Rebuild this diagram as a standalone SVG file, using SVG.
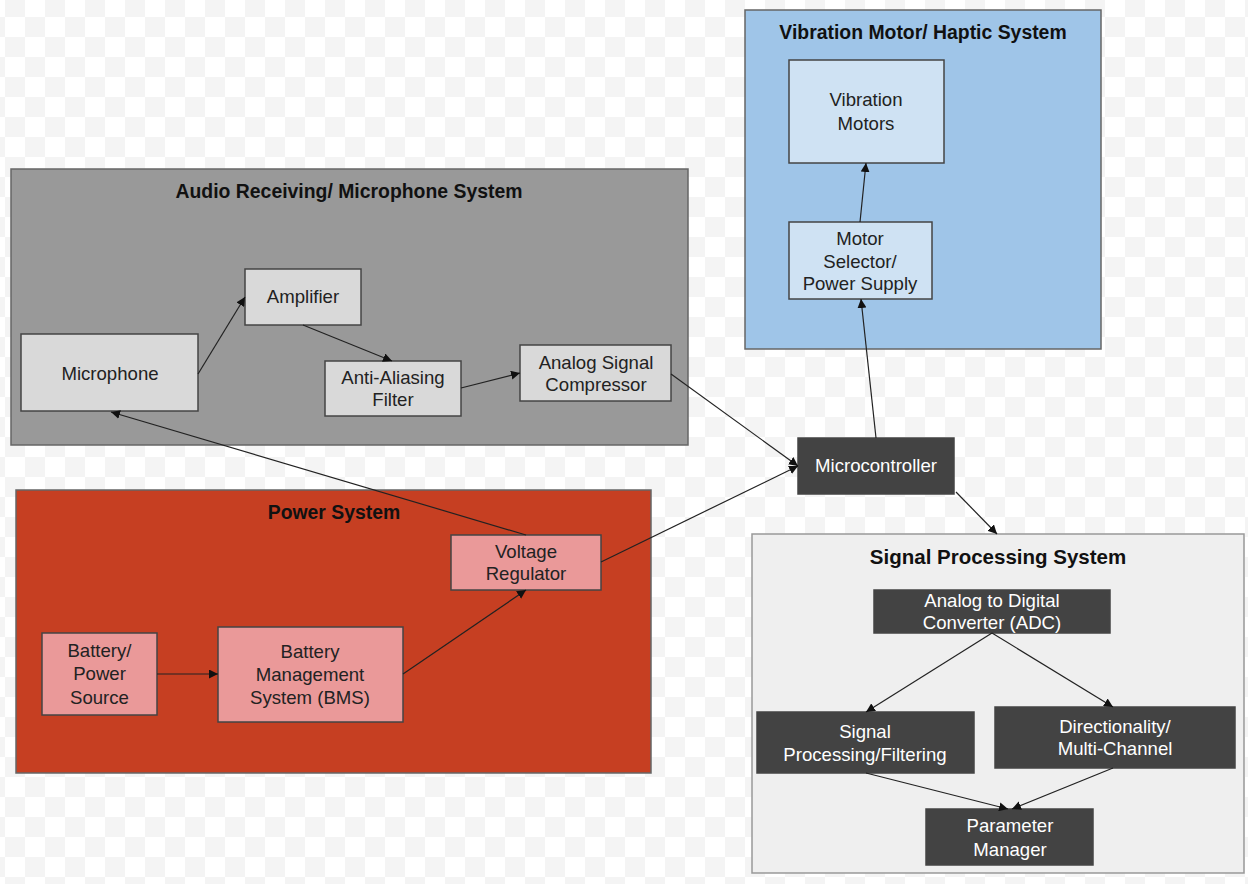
<svg xmlns="http://www.w3.org/2000/svg" width="1248" height="884" viewBox="0 0 1248 884">
<defs>
<pattern id="chk" x="5" y="-3" width="40" height="40" patternUnits="userSpaceOnUse">
<rect width="40" height="40" fill="#ffffff"/>
<rect width="20" height="20" fill="#f4f4f4"/>
<rect x="20" y="20" width="20" height="20" fill="#f4f4f4"/>
</pattern>
<marker id="arr" viewBox="0 0 10 10" refX="10" refY="5" markerWidth="9" markerHeight="9" markerUnits="userSpaceOnUse" orient="auto">
<path d="M0,0 L10,5 L0,10 Z" fill="#111"/>
</marker>
<style>
.t{font-family:"Liberation Sans",Arial,sans-serif;font-size:18.6px;text-anchor:middle;fill:#222}
.w{fill:#ffffff}
.h{font-family:"Liberation Sans",Arial,sans-serif;font-size:19.4px;font-weight:bold;text-anchor:middle;fill:#111}
.n{stroke:#444;stroke-width:1.5}
.g{stroke:#666;stroke-width:1.5}
.c line{stroke:#222;stroke-width:1.2;marker-end:url(#arr)}
</style>
</defs>
<rect width="1248" height="884" fill="url(#chk)"/>

<g id="audio-system">
<rect class="g" x="11" y="169" width="677" height="276" fill="#999999"/>
<text class="h" x="349" y="198">Audio Receiving/ Microphone System</text>
</g>
<g id="vibration-system">
<rect class="g" x="745" y="10" width="356" height="339" fill="#9fc5e8"/>
<text class="h" x="923" y="39">Vibration Motor/ Haptic System</text>
</g>
<g id="power-system">
<rect class="g" x="16" y="490" width="635" height="283" fill="#c63f22"/>
<text class="h" x="334" y="519">Power System</text>
</g>
<g id="signal-system">
<rect x="752" y="534" width="492" height="339" fill="#efefef" stroke="#999" stroke-width="1.5"/>
<text class="h" x="998" y="564" style="font-size:20.5px">Signal Processing System</text>
</g>

<g id="microphone">
<rect class="n" x="21" y="334" width="177" height="77" fill="#d9d9d9"/>
<text class="t" x="110" y="380">Microphone</text>
</g>
<g id="amplifier">
<rect class="n" x="245" y="269" width="116" height="56" fill="#d9d9d9"/>
<text class="t" x="303" y="303">Amplifier</text>
</g>
<g id="anti-aliasing">
<rect class="n" x="325" y="361" width="136" height="55" fill="#d9d9d9"/>
<text class="t" x="393" y="384">Anti-Aliasing</text>
<text class="t" x="393" y="406">Filter</text>
</g>
<g id="compressor">
<rect class="n" x="520" y="345" width="151" height="56" fill="#d9d9d9"/>
<text class="t" x="596" y="369">Analog Signal</text>
<text class="t" x="596" y="391">Compressor</text>
</g>

<g id="vibration-motors">
<rect class="n" x="789" y="60" width="155" height="103" fill="#cfe2f3"/>
<text class="t" x="866" y="106">Vibration</text>
<text class="t" x="866" y="130">Motors</text>
</g>
<g id="motor-selector">
<rect class="n" x="789" y="222" width="143" height="77" fill="#cfe2f3"/>
<text class="t" x="860" y="245">Motor</text>
<text class="t" x="860" y="268">Selector/</text>
<text class="t" x="860" y="290">Power Supply</text>
</g>

<g id="microcontroller">
<rect class="n" x="798" y="438" width="156" height="56" fill="#434343"/>
<text class="t w" x="876" y="472">Microcontroller</text>
</g>

<g id="voltage-regulator">
<rect class="n" x="451" y="535" width="150" height="55" fill="#ea9999"/>
<text class="t" x="526" y="558">Voltage</text>
<text class="t" x="526" y="580">Regulator</text>
</g>
<g id="battery">
<rect class="n" x="42" y="633" width="115" height="82" fill="#ea9999"/>
<text class="t" x="99.5" y="657">Battery/</text>
<text class="t" x="99.5" y="680">Power</text>
<text class="t" x="99.5" y="704">Source</text>
</g>
<g id="bms">
<rect class="n" x="218" y="627" width="185" height="95" fill="#ea9999"/>
<text class="t" x="310" y="658">Battery</text>
<text class="t" x="310" y="681">Management</text>
<text class="t" x="310" y="704">System (BMS)</text>
</g>

<g id="adc">
<rect class="n" x="874" y="590" width="236" height="43" fill="#434343"/>
<text class="t w" x="992" y="607">Analog to Digital</text>
<text class="t w" x="992" y="629">Converter (ADC)</text>
</g>
<g id="signal-filtering">
<rect class="n" x="757" y="712" width="217" height="61" fill="#434343"/>
<text class="t w" x="865" y="738">Signal</text>
<text class="t w" x="865" y="761">Processing/Filtering</text>
</g>
<g id="directionality">
<rect class="n" x="995" y="707" width="240" height="61" fill="#434343"/>
<text class="t w" x="1115" y="733">Directionality/</text>
<text class="t w" x="1115" y="755">Multi-Channel</text>
</g>
<g id="parameter-manager">
<rect class="n" x="926" y="809" width="167" height="56" fill="#434343"/>
<text class="t w" x="1010" y="832">Parameter</text>
<text class="t w" x="1010" y="856">Manager</text>
</g>

<g id="connectors" class="c">
<line x1="198" y1="374" x2="245" y2="297"/>
<line x1="303" y1="325" x2="392" y2="361"/>
<line x1="461" y1="388" x2="520" y2="373"/>
<line x1="671" y1="374" x2="798" y2="466"/>
<line x1="526" y1="535" x2="111" y2="412"/>
<line x1="601" y1="562" x2="798" y2="466"/>
<line x1="403" y1="674" x2="526" y2="590"/>
<line x1="157" y1="674" x2="218" y2="674"/>
<line x1="876" y1="438" x2="861" y2="299"/>
<line x1="860" y1="222" x2="866" y2="163"/>
<line x1="956" y1="492" x2="997" y2="534"/>
<line x1="992" y1="633" x2="866" y2="712"/>
<line x1="992" y1="633" x2="1113" y2="707"/>
<line x1="866" y1="773" x2="1008" y2="809"/>
<line x1="1113" y1="768" x2="1012" y2="809"/>
</g>
</svg>
